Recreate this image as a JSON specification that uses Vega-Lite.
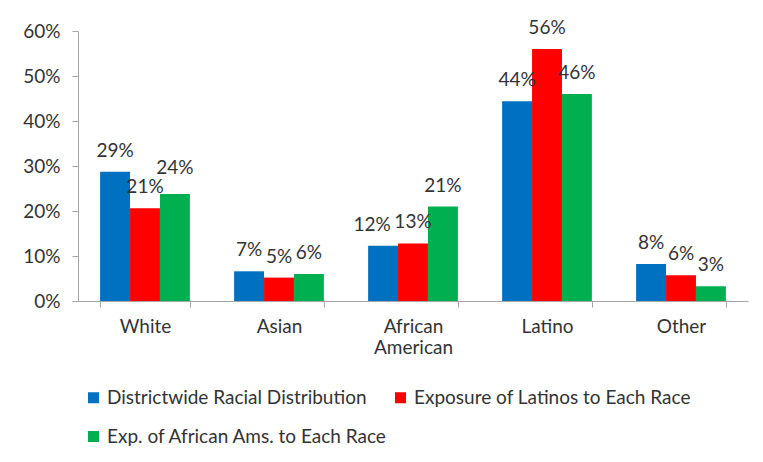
{
  "$schema": "https://vega.github.io/schema/vega-lite/v6.json",
  "width": 670,
  "height": 270,
  "autosize": {"type": "none"},
  "padding": {"left": 78, "top": 31, "right": 15, "bottom": 161},
  "background": "white",
  "config": {
    "view": {"stroke": null},
    "font": "Lato",
    "axis": {"labelFont": "Lato", "labelColor": "#333333", "labelFontSize": 19, "domainColor": "#A6A6A6", "tickColor": "#A6A6A6", "grid": false},
    "legend": {"labelFont": "Lato", "labelColor": "#333333", "labelFontSize": 19, "labelLimit": 400}
  },
  "data": {
    "values": [
      {"race": "White", "series": "Districtwide Racial Distribution", "value": 0.287},
      {"race": "White", "series": "Exposure of Latinos to Each Race", "value": 0.206},
      {"race": "White", "series": "Exp. of African Ams. to Each Race", "value": 0.238},
      {"race": "Asian", "series": "Districtwide Racial Distribution", "value": 0.066},
      {"race": "Asian", "series": "Exposure of Latinos to Each Race", "value": 0.052},
      {"race": "Asian", "series": "Exp. of African Ams. to Each Race", "value": 0.06},
      {"race": "African American", "series": "Districtwide Racial Distribution", "value": 0.123},
      {"race": "African American", "series": "Exposure of Latinos to Each Race", "value": 0.128},
      {"race": "African American", "series": "Exp. of African Ams. to Each Race", "value": 0.21},
      {"race": "Latino", "series": "Districtwide Racial Distribution", "value": 0.444},
      {"race": "Latino", "series": "Exposure of Latinos to Each Race", "value": 0.56},
      {"race": "Latino", "series": "Exp. of African Ams. to Each Race", "value": 0.46},
      {"race": "Other", "series": "Districtwide Racial Distribution", "value": 0.082},
      {"race": "Other", "series": "Exposure of Latinos to Each Race", "value": 0.057},
      {"race": "Other", "series": "Exp. of African Ams. to Each Race", "value": 0.033}
    ]
  },
  "encoding": {
    "x": {
      "field": "race", "type": "nominal", "title": null,
      "sort": ["White", "Asian", "African American", "Latino", "Other"],
      "scale": {"paddingInner": 0.33, "paddingOuter": 0.165},
      "axis": {"labelAngle": 0, "tickBand": "extent", "tickSize": 6, "labelPadding": 10, "labelLineHeight": 21,
               "labelExpr": "datum.label == 'African American' ? ['African', 'American'] : datum.label"}
    },
    "xOffset": {
      "field": "series", "type": "nominal",
      "sort": ["Districtwide Racial Distribution", "Exposure of Latinos to Each Race", "Exp. of African Ams. to Each Race"],
      "scale": {"paddingInner": 0, "paddingOuter": 0}
    },
    "y": {
      "field": "value", "type": "quantitative", "title": null,
      "scale": {"domain": [0, 0.6]},
      "axis": {"format": ".0%", "values": [0, 0.1, 0.2, 0.3, 0.4, 0.5, 0.6], "tickSize": 6, "labelPadding": 12}
    }
  },
  "layer": [
    {
      "mark": {"type": "bar"},
      "encoding": {
        "color": {
          "field": "series", "type": "nominal", "title": null,
          "sort": ["Districtwide Racial Distribution", "Exposure of Latinos to Each Race", "Exp. of African Ams. to Each Race"],
          "scale": {"domain": ["Districtwide Racial Distribution", "Exposure of Latinos to Each Race", "Exp. of African Ams. to Each Race"], "range": ["#0070C0", "#FF0000", "#00B050"]},
          "legend": {"orient": "none", "legendX": 6, "legendY": 357, "direction": "horizontal", "columns": 2, "columnPadding": 3, "rowPadding": 19, "symbolType": "square", "symbolSize": 121, "symbolStrokeWidth": 0, "labelOffset": 4}
        }
      }
    },
    {
      "transform": [{"filter": "!((datum.race == 'African American' && datum.series == 'Districtwide Racial Distribution') || (datum.race == 'White' && datum.series == 'Exp. of African Ams. to Each Race'))"}],
      "mark": {"type": "text", "baseline": "alphabetic", "dy": -15, "fontSize": 19, "color": "#333333", "font": "Lato"},
      "encoding": {"text": {"field": "value", "type": "quantitative", "format": ".0%"}}
    },
    {
      "transform": [{"filter": "datum.race == 'African American' && datum.series == 'Districtwide Racial Distribution'"}],
      "mark": {"type": "text", "baseline": "alphabetic", "dy": -15, "dx": -11, "fontSize": 19, "color": "#333333", "font": "Lato"},
      "encoding": {"text": {"field": "value", "type": "quantitative", "format": ".0%"}}
    },
    {
      "transform": [{"filter": "datum.race == 'White' && datum.series == 'Exp. of African Ams. to Each Race'"}],
      "mark": {"type": "text", "baseline": "alphabetic", "dy": -20, "fontSize": 19, "color": "#333333", "font": "Lato"},
      "encoding": {"text": {"field": "value", "type": "quantitative", "format": ".0%"}}
    }
  ]
}
